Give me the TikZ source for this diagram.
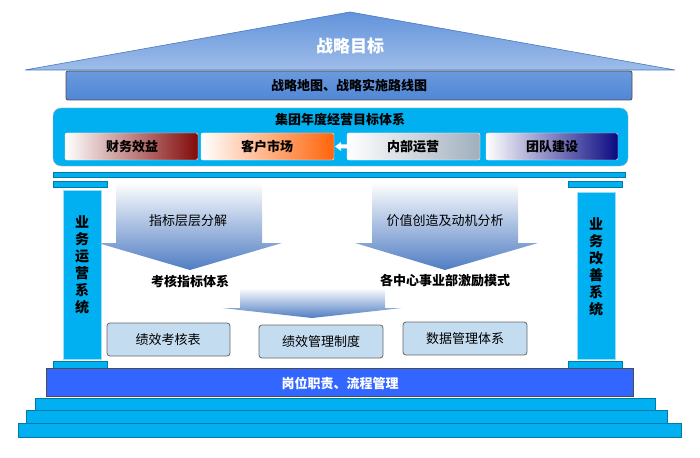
\documentclass[tikz,border=0pt]{standalone}
\usepackage{fontspec}
\setmainfont{Noto Sans CJK SC}
\usetikzlibrary{positioning}
\definecolor{cyanb}{RGB}{0,176,240}
\definecolor{roofb}{RGB}{80,135,215}
\definecolor{barb}{RGB}{51,102,255}
\definecolor{boxb}{RGB}{195,220,240}
\definecolor{arrb}{RGB}{80,125,195}
\begin{document}
\begin{tikzpicture}[x=1pt,y=-1pt,
    cyanbar/.style={fill=cyanb, draw=cyanb!70!black, line width=0.4pt},
    kpibox/.style={rounded corners=2pt, draw=white, left color=white},
    basebox/.style={rounded corners=3pt, fill=boxb, draw=gray!80!black, line width=0.8pt},
    downarrow/.style={top color=white, bottom color=arrb, draw=none},
    font=\fontsize{13}{15}\selectfont
  ]
  \useasboundingbox (0,0) rectangle (700,457);

  % roof
  \draw[top color=roofb!90, bottom color=roofb!55, draw=roofb!90!black, line width=0.6pt]
    (350,12) -- (675,70) -- (25,70) -- cycle;
  \node[text=white, font=\fontsize{17}{19}\selectfont\bfseries] (goal) at (350,46) {战略目标};

  % strategy map bar
  \draw[rounded corners=2pt, top color=roofb!85, bottom color=roofb, draw=black!70, line width=0.8pt]
    (66,71) rectangle (632,100);
  \node[font=\fontsize{13}{15}\selectfont\bfseries] (map) at (349,85) {战略地图、战略实施路线图};

  % annual target system
  \draw[rounded corners=8pt, fill=cyanb, draw=gray!60] (53,108) rectangle (628,166);
  \node[font=\fontsize{13}{15}\selectfont\bfseries] (annual) at (340,120) {集团年度经营目标体系};
  \path[kpibox, right color={rgb,255:red,130;green,10;blue,10}] (65,133) rectangle (198,160);
  \path[kpibox, right color={rgb,255:red,255;green,100;blue,10}] (201,133) rectangle (334,160);
  \path[kpibox, right color={rgb,255:red,160;green,175;blue,190}] (347,133) rectangle (480,160);
  \path[kpibox, right color={rgb,255:red,10;green,10;blue,130}] (486,133) rectangle (618,160);
  \node[font=\fontsize{13}{15}\selectfont\bfseries] (fin) at (132,146.5) {财务效益};
  \node[font=\fontsize{13}{15}\selectfont\bfseries] (cust) at (267,146.5) {客户市场};
  \node[font=\fontsize{13}{15}\selectfont\bfseries] (intern) at (413,146.5) {内部运营};
  \node[font=\fontsize{13}{15}\selectfont\bfseries] (team) at (552,146.5) {团队建设};
  \fill[white] (335,146.5) -- (341,142) -- (341,144.5) -- (348,144.5) -- (348,148.5) -- (341,148.5) -- (341,151) -- cycle;

  % beam and caps
  \path[cyanbar] (53,172) rectangle (625,177);
  \path[cyanbar] (53,181) rectangle (107,187);
  \path[cyanbar] (568,181) rectangle (622,187);
  \path[cyanbar] (53,361) rectangle (107,368);
  \path[cyanbar] (568,361) rectangle (622,368);

  % columns
  \draw[fill=cyanb, draw=cyanb!40] (63,190) rectangle (101,359);
  \draw[fill=cyanb, draw=cyanb!40] (577,192) rectangle (615,359);
  \node[font=\fontsize{14}{17}\selectfont\bfseries, align=center, inner sep=0pt] (ops) at (82,265) {业\\务\\运\\营\\系\\统};
  \node[font=\fontsize{14}{17}\selectfont\bfseries, align=center, inner sep=0pt] (impr) at (596,267) {业\\务\\改\\善\\系\\统};

  % down arrows
  \path[downarrow] (116,182) -- (262,182) -- (262,243) -- (282,243) -- (190,270)
    -- (98,243) -- (116,243) -- cycle;
  \path[downarrow] (372,182) -- (518,182) -- (518,243) -- (538,243) -- (445,270)
    -- (355,243) -- (372,243) -- cycle;
  \path[downarrow] (240,288) -- (385,288) -- (385,308) -- (402,308) -- (312,318)
    -- (222,308) -- (240,308) -- cycle;
  \node (split) at (188,221) {指标层层分解};
  \node (value) at (445,221) {价值创造及动机分析};
  \node[font=\fontsize{13}{15}\selectfont\bfseries] (kpi) at (190,281) {考核指标体系};
  \node[font=\fontsize{13}{15}\selectfont\bfseries] (incent) at (445,281) {各中心事业部激励模式};

  % base boxes
  \draw[basebox] (107,323) rectangle (230,356);
  \draw[basebox] (259,325) rectangle (383,358);
  \draw[basebox] (403,322) rectangle (527,355);
  \node (sheet) at (168,340) {绩效考核表};
  \node (rule) at (321,342) {绩效管理制度};
  \node (data) at (465,339) {数据管理体系};

  % post duties bar
  \draw[fill=barb, draw=black!70, line width=0.8pt] (46,368) rectangle (633,396);
  \node[text=white, font=\fontsize{13}{15}\selectfont\bfseries] (duty) at (340,383) {岗位职责、流程管理};

  % steps
  \path[cyanbar] (35,398) rectangle (655,410);
  \path[cyanbar] (26,410) rectangle (667,423);
  \path[cyanbar] (18,423) rectangle (681,437);
\end{tikzpicture}
\end{document}
